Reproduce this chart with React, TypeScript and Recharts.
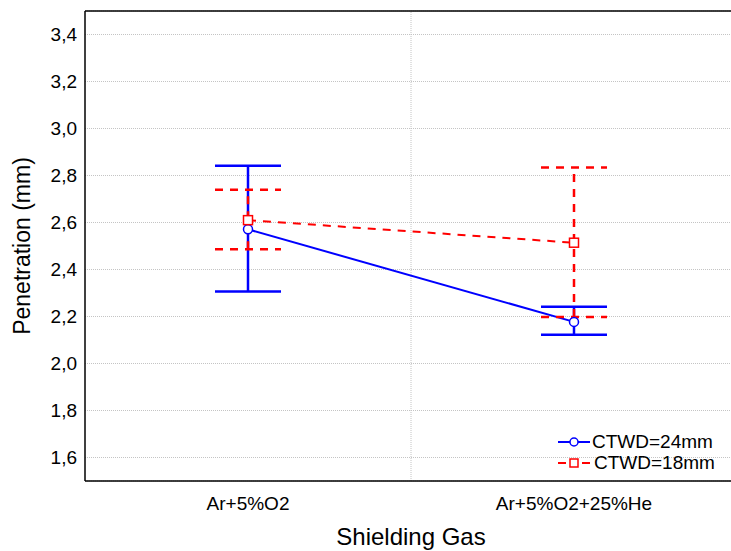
import React from 'react';
import { ComposedChart, Line, XAxis, YAxis, CartesianGrid, ErrorBar, ReferenceLine, Legend, Label } from 'recharts';

const categories = ['Ar+5%O2', 'Ar+5%O2+25%He'];
const ctwd24Mean = [2.571, 2.177];
const ctwd24Low = [2.306, 2.122];
const ctwd24High = [2.842, 2.242];
const ctwd18Mean = [2.61, 2.514];
const ctwd18Low = [2.486, 2.198];
const ctwd18High = [2.739, 2.834];
const yTicks = [1.6, 1.8, 2.0, 2.2, 2.4, 2.6, 2.8, 3.0, 3.2, 3.4];

const FONT = '"Liberation Sans", Arial, sans-serif';
const BLUE = '#0000ff';
const RED = '#ff0000';

const data = categories.map((name, i) => ({
  x: i,
  name,
  ctwd24: ctwd24Mean[i],
  err24: [ctwd24Mean[i] - ctwd24Low[i], ctwd24High[i] - ctwd24Mean[i]],
  ctwd18: ctwd18Mean[i],
  err18: [ctwd18Mean[i] - ctwd18Low[i], ctwd18High[i] - ctwd18Mean[i]],
}));

const CircleDot = (props: any) => {
  const { cx, cy } = props;
  return <circle cx={cx} cy={cy} r={4.5} fill="#fff" stroke={BLUE} strokeWidth={1.5} />;
};

const SquareDot = (props: any) => {
  const { cx, cy } = props;
  return <rect x={cx - 4.5} y={cy - 4.5} width={9} height={9} fill="#fff" stroke={RED} strokeWidth={1.5} />;
};

const LegendBox = () => (
  <div style={{ fontFamily: FONT, fontSize: 19, color: '#000', lineHeight: '21px' }}>
    <div style={{ display: 'flex', alignItems: 'center' }}>
      <svg width={34} height={14}>
        <line x1={0} y1={7} x2={32} y2={7} stroke={BLUE} strokeWidth={2} />
        <circle cx={16} cy={7} r={4} fill="#fff" stroke={BLUE} strokeWidth={1.5} />
      </svg>
      <span>CTWD=24mm</span>
    </div>
    <div style={{ display: 'flex', alignItems: 'center' }}>
      <svg width={36} height={14}>
        <line x1={0} y1={7} x2={32} y2={7} stroke={RED} strokeWidth={2} strokeDasharray="8 16" />
        <line x1={24} y1={7} x2={32} y2={7} stroke={RED} strokeWidth={2} />
        <rect x={12} y={3} width={8} height={8} fill="#fff" stroke={RED} strokeWidth={1.5} />
      </svg>
      <span>CTWD=18mm</span>
    </div>
  </div>
);

export default function App() {
  return (
    <div style={{ position: 'fixed', left: 0, top: 0, width: 731, height: 551, overflow: 'hidden', background: '#fff' }}>
      <ComposedChart width={745} height={551} data={data} margin={{ top: 11, right: 8, left: 25, bottom: 40 }}>
        <CartesianGrid vertical={false} stroke="#c4c4c4" strokeDasharray="1 1" />
        <ReferenceLine x={0.5} stroke="#c4c4c4" strokeDasharray="1 1" />
        <ReferenceLine y={3.5} stroke="#000" strokeWidth={1.5} />
        <XAxis
          dataKey="x"
          type="number"
          domain={[-0.5, 1.5]}
          ticks={[0, 1]}
          tickFormatter={(v: number) => categories[v]}
          tickLine={false}
          tickSize={8}
          tickMargin={8}
          axisLine={{ stroke: '#000', strokeWidth: 1.5 }}
          tick={{ fill: '#000', fontSize: 19, fontFamily: FONT }}
          height={30}
        >
          <Label
            content={(p: any) => {
              const vb = p.viewBox;
              return (
                <text x={vb.x + vb.width / 2} y={vb.y + 64} textAnchor="middle" fontSize={24} fontFamily={FONT} fill="#000">
                  Shielding Gas
                </text>
              );
            }}
          />
        </XAxis>
        <YAxis
          type="number"
          domain={[1.5, 3.5]}
          ticks={yTicks}
          tickFormatter={(v: number) => v.toFixed(1).replace('.', ',')}
          tickLine={false}
          axisLine={{ stroke: '#000', strokeWidth: 1.5 }}
          tick={{ fill: '#000', fontSize: 19, fontFamily: FONT }}
          width={60}
          allowDataOverflow
        >
          <Label
            content={(p: any) => {
              const vb = p.viewBox;
              const cx = vb.x - 3;
              const cy = vb.y + vb.height / 2;
              return (
                <text x={cx} y={cy} transform={`rotate(-90 ${cx} ${cy})`} textAnchor="middle" dominantBaseline="central" fontSize={23} fontFamily={FONT} fill="#000">
                  Penetration (mm)
                </text>
              );
            }}
          />
        </YAxis>
        <Line
          dataKey="ctwd24"
          stroke={BLUE}
          strokeWidth={2}
          dot={<CircleDot />}
          activeDot={false}
          isAnimationActive={false}
        >
          <ErrorBar dataKey="err24" direction="y" width={33} stroke={BLUE} strokeWidth={2.5} />
        </Line>
        <Line
          dataKey="ctwd18"
          stroke={RED}
          strokeWidth={2}
          strokeDasharray="8 7"
          dot={<SquareDot />}
          activeDot={false}
          isAnimationActive={false}
        >
          <ErrorBar dataKey="err18" direction="y" width={33} stroke={RED} strokeWidth={2.5} strokeDasharray="8 7" />
        </Line>
        <Legend
          layout="vertical"
          align="center"
          verticalAlign="middle"
          content={<LegendBox />}
          wrapperStyle={{ position: 'absolute', left: 558, top: 431, width: 180 }}
        />
      </ComposedChart>
    </div>
  );
}
